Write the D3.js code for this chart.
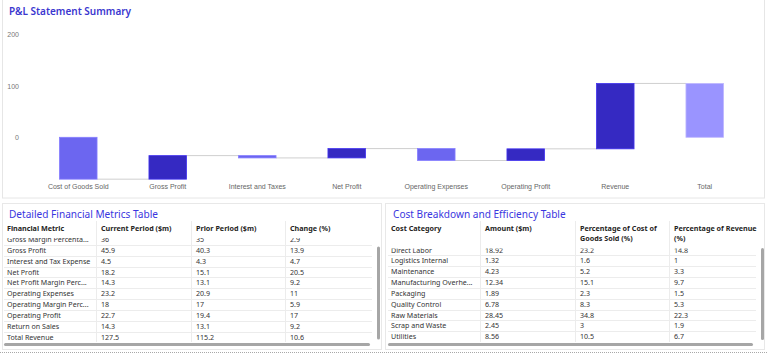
<!DOCTYPE html>
<html>
<head>
<meta charset="utf-8">
<script src="https://cdn.jsdelivr.net/npm/d3@7"></script>
<style>
  html, body { margin: 0; padding: 0; background: #fff; }
  svg { display: block; font-family: "Segoe UI", "Noto Sans", "Open Sans", sans-serif; }
</style>
</head>
<body>
<svg id="page" width="768" height="354"></svg>
<script>
// waterfall data
const categories = ['Cost of Goods Sold', 'Gross Profit', 'Interest and Taxes', 'Net Profit',
    'Operating Expenses', 'Operating Profit', 'Revenue', 'Total']
const deltas = [-81.6, 45.9, -4.5, 18.2, -23.2, 22.7, 127.5]
const yTicks = [0, 100, 200]

// table 1
const metricCols = ['Financial Metric', 'Current Period ($m)', 'Prior Period ($m)', 'Change (%)']
const metrics = ['Gross Margin Percenta...', 'Gross Profit', 'Interest and Tax Expense', 'Net Profit',
    'Net Profit Margin Perc...', 'Operating Expenses', 'Operating Margin Perc...', 'Operating Profit',
    'Return on Sales', 'Total Revenue']
const currentPeriod = [36, 45.9, 4.5, 18.2, 14.3, 23.2, 18, 22.7, 14.3, 127.5]
const priorPeriod = [35, 40.3, 4.3, 15.1, 13.1, 20.9, 17, 19.4, 13.1, 115.2]
const changePct = [2.9, 13.9, 4.7, 20.5, 9.2, 11, 5.9, 17, 9.2, 10.6]

// table 2
const costCols = [['Cost Category'], ['Amount ($m)'], ['Percentage of Cost of', 'Goods Sold (%)'], ['Percentage of Revenue', '(%)']]
const costCategories = ['Direct Labor', 'Logistics Internal', 'Maintenance', 'Manufacturing Overhe...',
    'Packaging', 'Quality Control', 'Raw Materials', 'Scrap and Waste', 'Utilities']
const amounts = [18.92, 1.32, 4.23, 12.34, 1.89, 6.78, 28.45, 2.45, 8.56]
const pctOfCogs = [23.2, 1.6, 5.2, 15.1, 2.3, 8.3, 34.8, 3, 10.5]
const pctOfRevenue = [14.8, 1, 3.3, 9.7, 1.5, 5.3, 22.3, 1.9, 6.7]

const COLORS = {
    decrease: '#6c66f0',
    increase: '#3529c2',
    total: '#9a94ff',
}

const svg = d3.select('#page')

// panels
svg.append('rect').attr('x', 2.5).attr('y', -0.5).attr('width', 762).attr('height', 198.5)
    .attr('fill', '#fff').attr('stroke', '#e6e6e6')
svg.append('rect').attr('x', 2.5).attr('y', 203.5).attr('width', 379).attr('height', 146)
    .attr('fill', '#fff').attr('stroke', '#e8e8e8')
svg.append('rect').attr('x', 385.5).attr('y', 203.5).attr('width', 379).attr('height', 146)
    .attr('fill', '#fff').attr('stroke', '#e8e8e8')
svg.append('line').attr('x1', 0).attr('x2', 768).attr('y1', 352.5).attr('y2', 352.5)
    .attr('stroke', '#a8a8a8').attr('stroke-dasharray', '1,1')

// ---- waterfall ----
svg.append('text').attr('x', 9).attr('y', 14.5)
    .attr('font-size', 10).attr('font-weight', 600).attr('fill', '#3b37cf')
    .text('P&L Statement Summary')

// build steps: running start/end for each bar
let running = 0
const steps = deltas.map((d, i) => {
    const start = running
    running += d
    return { name: categories[i], start, end: running, kind: d < 0 ? 'decrease' : 'increase' }
})
steps.push({ name: categories[7], start: 0, end: running, kind: 'total' })

const x = d3.scaleBand().domain(categories).range([33.5, 749.5])
    .paddingInner(0.58).paddingOuter(0.29)
const y = d3.scaleLinear().domain([0, 200]).range([137.3, 34.7])

const yAxis = svg.append('g').attr('transform', 'translate(19,0)')
    .call(d3.axisLeft(y).tickValues(yTicks).tickSize(0).tickPadding(0))
yAxis.select('.domain').remove()
yAxis.selectAll('text').attr('font-size', 7).attr('fill', '#777').attr('font-family', null)

const xAxis = svg.append('g').attr('transform', 'translate(0,184.5)')
    .call(d3.axisBottom(x).tickSize(0).tickPadding(0))
xAxis.select('.domain').remove()
xAxis.selectAll('text').attr('font-size', 7).attr('fill', '#666').attr('font-family', null)

// connectors
svg.append('g').selectAll('line')
    .data(steps.slice(0, -1))
    .join('line')
    .attr('x1', d => x(d.name) + x.bandwidth())
    .attr('x2', (d, i) => x(steps[i + 1].name))
    .attr('y1', d => y(d.end))
    .attr('y2', d => y(d.end))
    .attr('stroke', '#cfcfcf')
    .attr('stroke-width', 1)

svg.append('g').selectAll('rect')
    .data(steps)
    .join('rect')
    .attr('x', d => x(d.name))
    .attr('width', x.bandwidth())
    .attr('y', d => y(Math.max(d.start, d.end)))
    .attr('height', d => Math.abs(y(d.start) - y(d.end)))
    .attr('fill', d => COLORS[d.kind])
    .attr('stroke', d => d3.color(COLORS[d.kind]).brighter(0.6))
    .attr('stroke-width', 0.8)

// ---- tables ----
function drawTable(opts) {
    const g = svg.append('g')
    g.append('text').attr('x', opts.x0 + 7).attr('y', 217.5)
        .attr('font-size', 10.1).attr('fill', '#3a36e0')
        .text(opts.title)

    // column separators
    g.selectAll('line.col')
        .data(opts.colX.slice(1))
        .join('line')
        .attr('x1', d => d - 4.5).attr('x2', d => d - 4.5)
        .attr('y1', 221).attr('y2', 342)
        .attr('stroke', '#ececec')

    // headers
    opts.headers.forEach((lines, c) => {
        lines.forEach((line, k) => {
            g.append('text').attr('x', opts.colX[c]).attr('y', 230.5 + k * 10)
                .attr('font-size', 7.2).attr('font-weight', 700).attr('fill', '#252423')
                .text(line)
        })
    })

    const clipId = 'clip' + opts.x0
    svg.append('clipPath').attr('id', clipId)
        .append('rect').attr('x', opts.x0).attr('y', opts.clipTop)
        .attr('width', 370).attr('height', 341 - opts.clipTop)
    const body = g.append('g').attr('clip-path', `url(#${clipId})`)
    const rows = d3.range(opts.columns[0].length)
    const rowY = i => opts.firstRow + i * 10.85

    body.selectAll('line.row')
        .data(rows)
        .join('line')
        .attr('x1', opts.x0 + 2).attr('x2', opts.x0 + 372)
        .attr('y1', i => Math.round(rowY(i) + 5.5) + 0.5)
        .attr('y2', i => Math.round(rowY(i) + 5.5) + 0.5)
        .attr('stroke', '#ececec')

    opts.columns.forEach((col, c) => {
        body.selectAll(null)
            .data(col)
            .join('text')
            .attr('x', opts.colX[c])
            .attr('y', (d, i) => rowY(i) + 2.7)
            .attr('font-size', 7.1).attr('fill', '#333')
            .text(d => d)
    })

    // scrollbars
    g.append('rect').attr('x', opts.x0 + opts.vBar[0]).attr('y', opts.vBar[1])
        .attr('width', 3).attr('height', opts.vBar[2]).attr('rx', 1.5).attr('fill', '#a6a6a6')
    g.append('rect').attr('x', opts.x0 + 2).attr('y', 343)
        .attr('width', opts.hBar).attr('height', 3).attr('rx', 1.5).attr('fill', '#a6a6a6')
}

drawTable({
    title: 'Detailed Financial Metrics Table',
    x0: 2,
    colX: [7, 101, 196, 290],
    headers: metricCols.map(d => [d]),
    columns: [metrics, currentPeriod, priorPeriod, changePct],
    firstRow: 239.3,
    clipTop: 238,
    vBar: [375, 246.5, 93],
    hBar: 366,
})

drawTable({
    title: 'Cost Breakdown and Efficiency Table',
    x0: 386,
    colX: [391, 485, 580, 674],
    headers: costCols,
    columns: [costCategories, amounts, pctOfCogs, pctOfRevenue],
    firstRow: 249.8,
    clipTop: 248.6,
    vBar: [375, 248, 92],
    hBar: 365,
})
</script>
</body>
</html>
